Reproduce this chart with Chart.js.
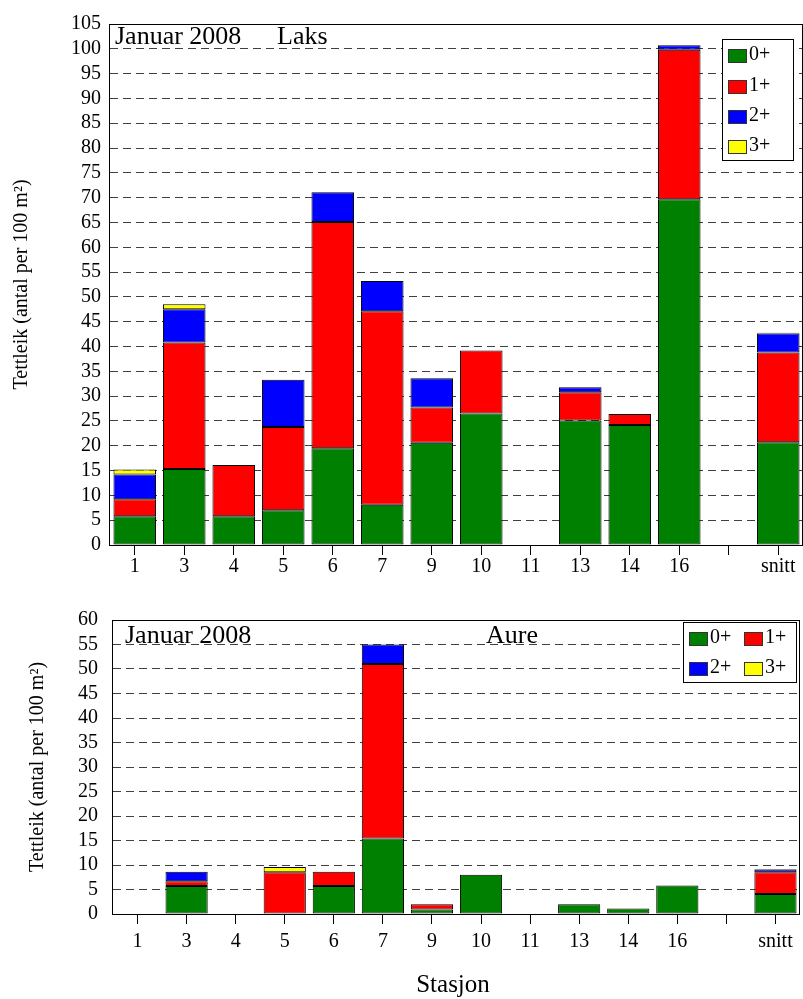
<!DOCTYPE html>
<html>
<head>
<meta charset="utf-8">
<script src="https://cdn.jsdelivr.net/npm/chart.js@4/dist/chart.umd.min.js"></script>
<style>
  body { margin: 0; background: #fff; }
  #wrapTop { position: absolute; left: 0; top: 0; width: 803px; height: 590px; }
  #wrapBottom { position: absolute; left: 0; top: 590px; width: 803px; height: 409px; }
</style>
</head>
<body>
<div id="wrapTop"><canvas id="laksChart" width="803" height="590"></canvas></div>
<div id="wrapBottom"><canvas id="aureChart" width="803" height="409"></canvas></div>
<script>
const stations = ['1', '3', '4', '5', '6', '7', '9', '10', '11', '13', '14', '16', '', 'snitt'];
const ageGroups = ['0+', '1+', '2+', '3+'];
const ageColors = ['#008000', '#ff0000', '#0000ff', '#ffff00'];

// Laks (salmon), individer per 100 m2
const laks0 = [5.8, 15.3, 5.8, 7.0, 19.5, 8.1, 20.6, 26.5, 0, 25.1, 24.2, 69.7, null, 20.7];
const laks1 = [3.4, 25.5, 10.3, 16.8, 45.6, 39.0, 7.1, 12.7, 0, 5.7, 2.2, 30.1, null, 18.1];
const laks2 = [5.0, 6.7, 0, 9.5, 6.0, 6.1, 5.9, 0, 0, 1.0, 0, 0.9, null, 3.8];
const laks3 = [1.0, 1.0, 0, 0, 0, 0, 0, 0, 0, 0, 0, 0, null, 0.2];

// Aure (trout)
const aure0 = [0, 5.7, 0, 0, 5.7, 15.4, 0.9, 8.0, 0, 2.0, 1.1, 5.8, null, 4.1];
const aure1 = [0, 1.0, 0, 8.5, 2.9, 35.6, 1.1, 0, 0, 0, 0, 0, null, 4.4];
const aure2 = [0, 1.9, 0, 0, 0, 4.0, 0, 0, 0, 0, 0, 0, null, 0.6];
const aure3 = [0, 0, 0, 1.1, 0, 0, 0, 0, 0, 0, 0, 0, null, 0.1];

const serif = "'Liberation Serif', 'Times New Roman', serif";
const yTitle = 'Tettleik (antal per 100 m²)';

// frame, titles, legend drawn on top of the chart
const decorPlugin = {
  id: 'decor',
  afterDraw(chart, args, opts) {
    const ctx = chart.ctx;
    const a = chart.chartArea;
    ctx.save();
    ctx.strokeStyle = '#000';
    ctx.lineWidth = 1;
    ctx.strokeRect(Math.round(a.left) - 0.5, Math.round(a.top) + 0.5, Math.round(a.right - a.left), Math.round(a.bottom - a.top));

    ctx.fillStyle = '#000';
    ctx.textBaseline = 'middle';
    ctx.textAlign = 'left';
    ctx.font = '26px ' + serif;
    opts.titles.forEach(t => ctx.fillText(t.text, t.x, t.y));

    // y axis title
    ctx.save();
    ctx.font = '20px ' + serif;
    ctx.textAlign = 'center';
    ctx.translate(opts.yTitleX, (a.top + a.bottom) / 2);
    ctx.rotate(-Math.PI / 2);
    ctx.fillText(yTitle, 0, 0);
    ctx.restore();

    if (opts.xTitle) {
      ctx.font = '25px ' + serif;
      ctx.textAlign = 'center';
      ctx.fillText(opts.xTitle.text, opts.xTitle.x, opts.xTitle.y);
    }

    // legend
    const lg = opts.legend;
    ctx.fillStyle = '#fff';
    ctx.fillRect(lg.x, lg.y, lg.w, lg.h);
    ctx.strokeStyle = '#000';
    ctx.strokeRect(lg.x + 0.5, lg.y + 0.5, lg.w, lg.h);
    ctx.font = '20px ' + serif;
    ctx.textAlign = 'left';
    chart.data.datasets.forEach((ds, i) => {
      const p = lg.items[i];
      ctx.fillStyle = ds.backgroundColor;
      ctx.fillRect(p[0], p[1] - 6, 18, 13);
      ctx.strokeStyle = '#333';
      ctx.strokeRect(p[0] + 0.5, p[1] - 6 + 0.5, 18, 13);
      ctx.fillStyle = '#000';
      ctx.fillText(ds.label, p[0] + 21, p[1]);
    });
    ctx.restore();
  }
};

function makeChart(id, series, yMax, sizes, decor) {
  const datasets = [];
  for (let i = 0; i < series.length; i++) {
    datasets.push({
      label: ageGroups[i],
      data: series[i],
      backgroundColor: ageColors[i],
      borderColor: '#000',
      borderWidth: 1,
      borderSkipped: false,
      barPercentage: 0.86,
      categoryPercentage: 1
    });
  }
  return new Chart(document.getElementById(id), {
    type: 'bar',
    data: { labels: stations, datasets: datasets },
    plugins: [decorPlugin],
    options: {
      responsive: false,
      animation: false,
      devicePixelRatio: 1,
      layout: { padding: { left: 0, top: sizes.top, right: sizes.right, bottom: 0 } },
      plugins: {
        legend: { display: false },
        tooltip: { enabled: false },
        decor: decor
      },
      scales: {
        x: {
          stacked: true,
          grid: { drawOnChartArea: false, offset: false, tickLength: 10, color: '#000' },
          border: { display: false },
          ticks: { color: '#000', font: { family: serif, size: 20 }, padding: sizes.xPad, maxRotation: 0, autoSkip: false },
          afterFit: s => { s.height = sizes.xHeight; }
        },
        y: {
          stacked: true,
          min: 0,
          max: yMax,
          grid: { drawTicks: false, color: 'rgba(0,0,0,0.75)' },
          border: { display: false, dash: [8, 5] },
          ticks: { stepSize: 5, autoSkip: false, color: '#000', font: { family: serif, size: 20 }, padding: sizes.yPad },
          afterFit: s => { s.width = sizes.yWidth; }
        }
      }
    }
  });
}

makeChart('laksChart', [laks0, laks1, laks2, laks3], 105,
  { top: 24, right: 0, xHeight: 45, yWidth: 110, xPad: 0, yPad: 9 },
  {
    titles: [{ text: 'Januar 2008', x: 115, y: 37 }, { text: 'Laks', x: 277, y: 37 }],
    yTitleX: 22,
    legend: { x: 722, y: 39, w: 71, h: 121, items: [[728, 55], [728, 86], [728, 116], [728, 146]] }
  });

makeChart('aureChart', [aure0, aure1, aure2, aure3], 60,
  { top: 30, right: 3, xHeight: 85, yWidth: 113, xPad: 6, yPad: 15 },
  {
    titles: [{ text: 'Januar 2008', x: 125, y: 46 }, { text: 'Aure', x: 486, y: 46 }],
    yTitleX: 38,
    xTitle: { text: 'Stasjon', x: 453, y: 395 },
    legend: { x: 683, y: 32, w: 113, h: 60, items: [[689, 48], [744, 48], [689, 78], [744, 78]] }
  });
</script>
</body>
</html>
